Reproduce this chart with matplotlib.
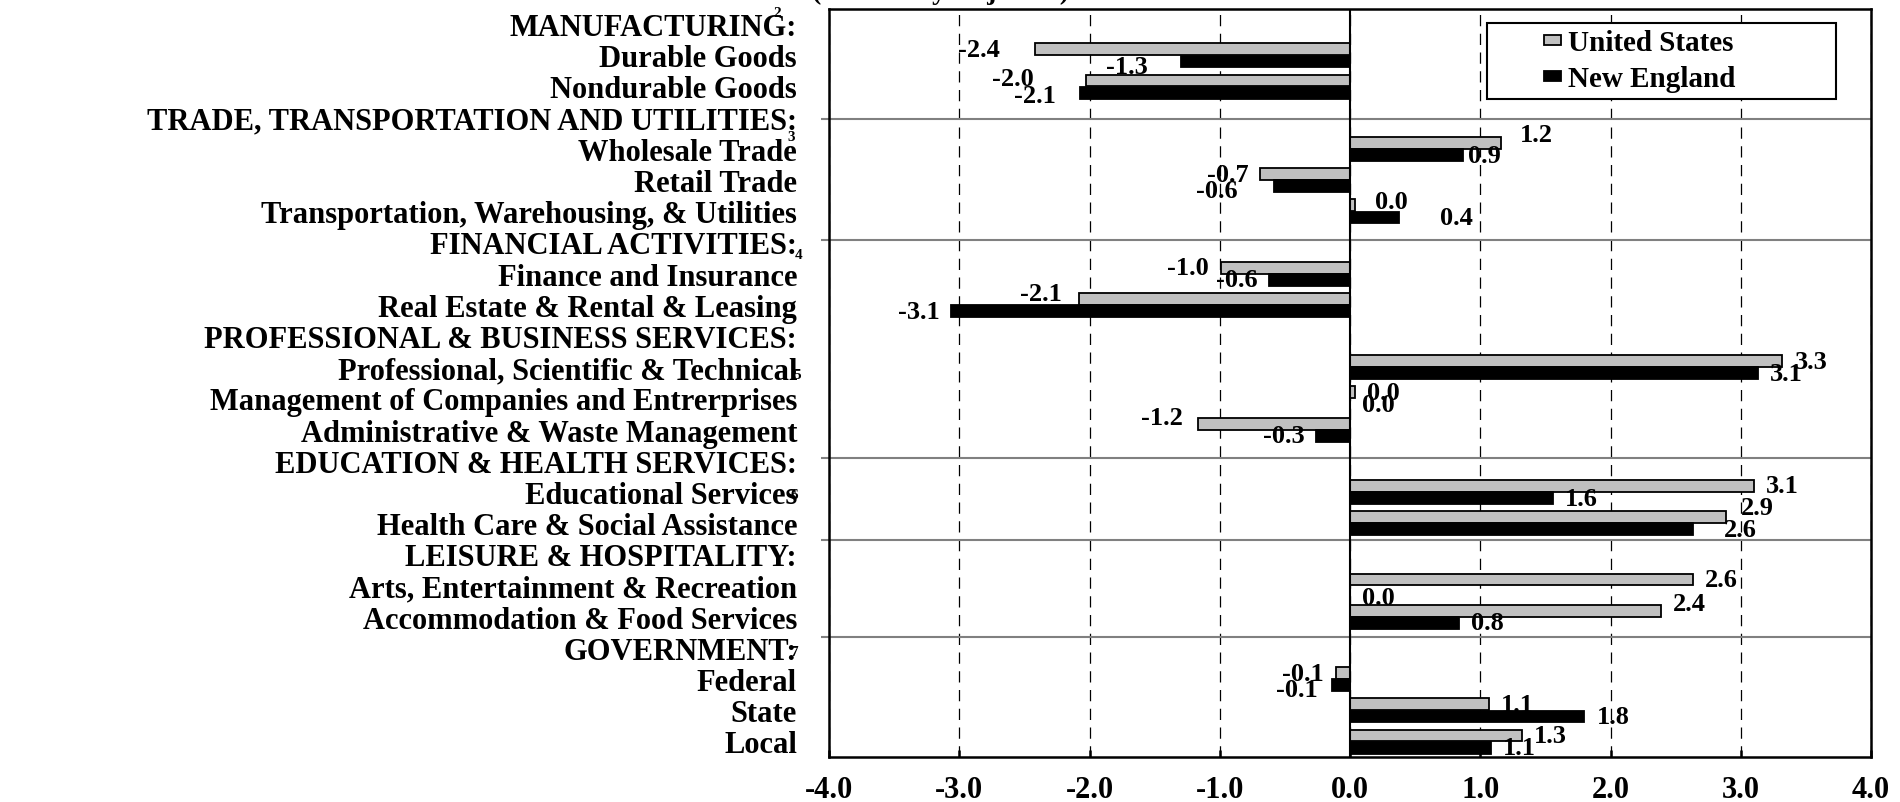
import matplotlib.pyplot as plt
import numpy as np
from matplotlib.patches import Patch, Rectangle
from matplotlib.legend_handler import HandlerPatch

# 行业标签（从上到下）
categories = [
    "MANUFACTURING:", "Durable Goods", "Nondurable Goods",
    "TRADE, TRANSPORTATION AND UTILITIES:", "Wholesale Trade", "Retail Trade",
    "Transportation, Warehousing, & Utilities",
    "FINANCIAL ACTIVITIES:", "Finance and Insurance", "Real Estate & Rental & Leasing",
    "PROFESSIONAL & BUSINESS SERVICES:", "Professional, Scientific & Technical",
    "Management of Companies and Entrerprises", "Administrative & Waste Management",
    "EDUCATION & HEALTH SERVICES:", "Educational Services", "Health Care & Social Assistance",
    "LEISURE & HOSPITALITY:", "Arts, Entertainment & Recreation", "Accommodation & Food Services",
    "GOVERNMENT:", "Federal", "State", "Local",
]

nan = np.nan
# 美国 / 新英格兰 数值（标题行为空）
us_values = [nan, -2.42, -2.03, nan, 1.16, -0.69, 0.04, nan, -0.99, -2.08, nan, 3.32, 0.04, -1.17,
             nan, 3.10, 2.89, nan, 2.63, 2.39, nan, -0.11, 1.07, 1.32]
ne_values = [nan, -1.30, -2.07, nan, 0.87, -0.58, 0.38, nan, -0.62, -3.06, nan, 3.13, 0.00, -0.26,
             nan, 1.56, 2.63, nan, 0.00, 0.84, nan, -0.14, 1.80, 1.08]

series_names = ["United States", "New England"]
x_ticks = [-4, -3, -2, -1, 0, 1, 2, 3, 4]
group_lines = [3.05, 6.93, 10.0, 13.9, 16.55, 19.65]   # 分组横线位置

# 数据标签的额外偏移 (行, 序列): (额外水平间距 px, 垂直偏移 px, 向下为正)
label_nudge = {
    (1, 0): (23, 0), (1, 1): (21, 5), (2, 0): (40, -2.5), (2, 1): (13, 2.5),
    (4, 0): (7, -8), (4, 1): (-7, 0), (5, 1): (25, 4.5), (6, 0): (8, -3.5),
    (6, 1): (29, 0), (9, 0): (5, -5), (13, 0): (3, -6.5), (16, 0): (2, -10),
    (16, 1): (19, 0), (18, 1): (0, 6), (19, 0): (0, -7.5), (21, 1): (2, 4.5),
}

# 脚注角标
footnotes = ["2", "3", "4", "5", "6", "7"]
footnote_rows = [0, 3, 7, 11, 15, 20]
footnote_offsets = [(-37, 8.6), (-27, -13.7), (-22, -8.6), (-23, -5), (-25, -2.2), (-25, -2.9)]

subtitle = "(Seasonally Adjusted)"

plt.rcParams['font.family'] = ['Liberation Serif', 'DejaVu Serif']
plt.rcParams['font.weight'] = 'bold'

fig = plt.figure(figsize=(19, 8.03), dpi=100)
ax = fig.add_axes([829 / 1900, 1 - 758 / 803, (1871 - 829) / 1900, (758 - 9.5) / 803])

y = np.arange(len(categories))
us = np.array(us_values)
ne = np.array(ne_values)
rows = ~np.isnan(us)

colors = ['#c0c0c0', 'black']
shifts = [-0.19, 0.2]
for k, vals in enumerate((us, ne)):
    ax.barh(y[rows] + shifts[k], vals[rows], height=0.38, color=colors[k], edgecolor='black',
            linewidth=1.3, zorder=3)

# 数据标签
px = 72 / 100
for k, vals in enumerate((us, ne)):
    for i in y[rows]:
        v = vals[i]
        extra, dy = label_nudge.get((i, k), (0, 0))
        gap = (12 + extra) * px
        ax.annotate(f"{v:.1f}", (v, i + shifts[k]), xytext=(gap if v >= 0 else -gap, -dy * px),
                    textcoords='offset points', ha='left' if v >= 0 else 'right',
                    va='center', fontsize=19, zorder=5)

ax.axvline(0, color='black', linewidth=1.5, zorder=4)

# 坐标轴
ax.set_xlim(-4, 4)
ax.set_ylim(len(categories) - 0.5, -0.5)
ax.set_xticks(x_ticks)
ax.set_xticklabels([f"{t:.1f}" for t in x_ticks], fontsize=22)
ax.set_yticks(y)
ax.set_yticklabels(categories, fontsize=22)
ax.set_yticks(group_lines, minor=True)

ax.set_axisbelow(True)
ax.xaxis.grid(True, linestyle=(0, (9, 6)), color='black', linewidth=0.9)
ax.yaxis.grid(True, which='minor', color='#808080', linewidth=1.5)
ax.tick_params(axis='y', which='major', length=0, pad=23)
ax.tick_params(axis='y', which='minor', length=6, width=1.5, direction='out', color='#808080')
ax.tick_params(axis='x', direction='in', length=5, width=1.8, pad=13)
for s in ax.spines.values():
    s.set_linewidth(1.8)


# 图例：小方块放在句柄区右侧
def small_box(legend, orig_handle, xdescent, ydescent, width, height, fontsize):
    w, h = 12.2, 7.2
    return Rectangle((width - xdescent - w, (height - h) / 2 - ydescent), w, h)


handles = [Patch(facecolor=c, edgecolor='black', linewidth=1.3) for c in colors]
leg = ax.legend(handles, series_names, loc='upper left',
                bbox_to_anchor=((1487 - 829) / 1042, 1 - (24 - 9.5) / 748.5, (1836 - 1487) / 1042, 0),
                mode='expand', borderaxespad=0, fontsize=21, frameon=True, fancybox=False,
                edgecolor='black', framealpha=1, handlelength=2.3, handletextpad=0.24,
                labelspacing=0.3, borderpad=0.22,
                handler_map={Patch: HandlerPatch(patch_func=small_box)})
leg.get_frame().set_linewidth(1.5)

for mark, r, off in zip(footnotes, footnote_rows, footnote_offsets):
    ax.annotate(mark, (0, r), xycoords=ax.get_yaxis_transform(), xytext=off,
                textcoords='offset points', ha='center', va='center', fontsize=11,
                annotation_clip=False)

# 顶部被截掉的副标题
fig.text(812 / 1900, 1 + 1 / 803, subtitle, ha='left', va='baseline', fontsize=20)

fig.savefig('out.png', dpi=100)
